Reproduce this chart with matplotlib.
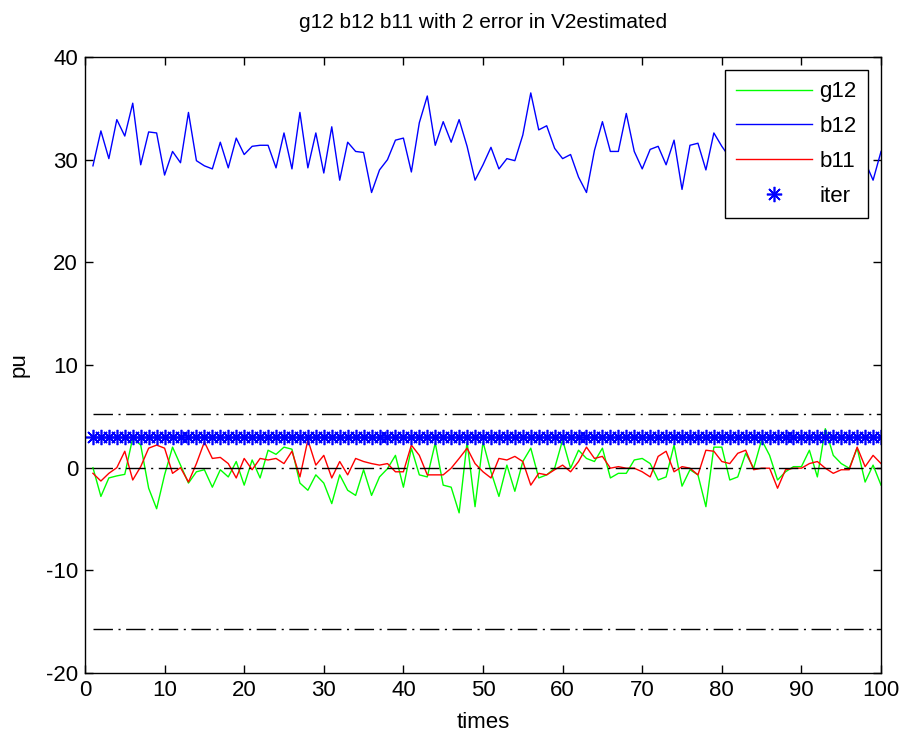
import numpy as np
import matplotlib
matplotlib.use("Agg")
import matplotlib.pyplot as plt

plt.rcParams['font.family'] = ['Liberation Sans', 'DejaVu Sans']
plt.rcParams['axes.unicode_minus'] = False

times = np.arange(1, 101)

g12 = [0.0, -2.8, -1.0, -0.8, -0.65, 2.9, 2.2, -2.0, -4.0, -0.7,
       2.0, 0.25, -1.5, -0.4, -0.2, -1.9, -0.2, -0.9, 0.6, -1.7,
       0.75, -1.0, 1.7, 1.3, 2.0, 1.8, -1.5, -2.2, -0.7, -1.5,
       -3.5, -0.7, -2.2, -2.7, -0.2, -2.7, -0.9, -0.1, 1.2, -1.9,
       1.9, -0.7, -0.9, 2.4, -1.7, -1.9, -4.4, 2.5, -3.8, 2.5,
       -0.4, -2.8, 0.25, -2.3, 0.6, 1.9, -1.0, -0.7, -0.05, 2.7,
       -0.05, 1.7, 0.9, 0.6, 1.9, -1.0, -0.55, -0.55, 0.75, 0.9,
       0.4, -1.2, -0.9, 2.2, -1.8, -0.2, -0.7, -3.8, 2.0, 2.0,
       -1.2, -0.9, 1.4, -0.05, 2.7, 1.2, -1.2, -0.4, 0.1, 0.1,
       1.7, -0.9, 3.8, 1.2, 0.4, -0.05, 1.9, -1.4, 0.25, -1.7]

b12 = [29.4, 32.8, 30.1, 33.9, 32.3, 35.5, 29.5, 32.7, 32.6, 28.5,
       30.8, 29.7, 34.6, 29.9, 29.4, 29.1, 31.7, 29.2, 32.1, 30.5,
       31.3, 31.4, 31.4, 29.2, 32.6, 29.1, 34.6, 29.2, 32.6, 28.7,
       33.2, 28.0, 31.7, 30.8, 30.7, 26.8, 29.0, 30.0, 31.9, 32.1,
       28.8, 33.6, 36.2, 31.4, 33.7, 31.7, 33.9, 31.3, 28.0, 29.5,
       31.2, 29.1, 30.1, 29.9, 32.4, 36.5, 32.9, 33.3, 31.1, 30.1,
       30.5, 28.3, 26.8, 30.9, 33.7, 30.8, 30.8, 34.5, 30.8, 29.1,
       31.0, 31.3, 29.5, 31.9, 27.1, 31.4, 31.6, 29.0, 32.6, 31.3,
       30.2, 32.5, 29.4, 33.1, 30.6, 28.9, 31.8, 30.0, 32.9, 29.6,
       31.2, 33.4, 30.1, 28.7, 32.2, 30.5, 31.6, 29.8, 28.0, 30.8]

b11 = [-0.55, -1.3, -0.55, 0.0, 1.6, -1.2, 0.1, 1.9, 2.2, 1.9,
       -0.55, 0.0, -1.4, 0.4, 2.5, 0.9, 1.0, 0.4, -1.0, 0.9,
       -0.2, 0.9, 0.75, 0.9, 0.4, 1.6, -0.9, 2.7, 0.25, 1.2,
       -1.0, 0.6, -0.7, 0.9, 0.6, 0.4, 0.25, 0.4, -0.4, -0.4,
       2.2, 1.2, -0.7, -0.7, -0.7, -0.05, 0.9, 1.9, 0.4, -0.4,
       -1.0, 0.9, 0.75, 1.1, 0.6, -1.7, -0.55, -0.7, -0.2, 0.25,
       -0.4, 0.6, 2.0, 0.9, 1.1, -0.05, 0.1, -0.05, -0.05, -0.4,
       -0.9, 1.1, 1.6, -0.4, 0.1, -0.05, -0.7, 1.7, 1.6, 0.6,
       0.4, 1.4, 1.7, -0.2, -0.05, -0.05, -2.0, -0.2, -0.05, -0.05,
       0.4, 0.6, -0.05, -0.55, -0.2, -0.2, 2.0, 0.1, 1.2, 0.4]

iter_level = [3.0] * 100

# limit lines (dash-dot)
upper_lim = 5.2
mid_lim = 0.0
lower_lim = -15.7

fig = plt.figure(figsize=(9.04, 7.4), dpi=100)
ax = fig.add_axes([0.094, 0.0905, 0.8806, 0.8325])

ax.plot(times, g12, color=(0, 1, 0), lw=1.0, label='g12')
ax.plot(times, b12, color=(0, 0, 1), lw=1.0, label='b12')
ax.plot(times, b11, color=(1, 0, 0), lw=1.0, label='b11')
ax.plot(times, iter_level, ls='none', marker=(8, 2, 0), ms=11, mew=1.2,
        color=(0, 0, 1), label='iter')

for lim in [upper_lim, mid_lim, lower_lim]:
    ax.plot([times[0], times[-1]], [lim, lim], color='k', ls='-.', lw=1.0,
            dashes=(14, 4, 1.5, 4))

ax.set_xlim(0, 100)
ax.set_ylim(-20, 40)
ax.set_xticks(np.arange(0, 101, 10))
ax.set_yticks(np.arange(-20, 41, 10))
ax.tick_params(direction='in', top=True, right=True, length=6, width=1,
               labelsize=16, pad=5)
for s in ax.spines.values():
    s.set_linewidth(1.0)

ax.set_title('g12 b12 b11 with 2 error in V2estimated', fontsize=15, pad=21)
ax.set_xlabel('times', fontsize=16, labelpad=8)
ax.set_ylabel('pu', fontsize=16, labelpad=12)

leg = ax.legend(loc='upper right', fontsize=16, handlelength=3.4,
                handletextpad=0.35, labelspacing=0.62, borderpad=0.5,
                borderaxespad=0.6, fancybox=False, framealpha=1,
                edgecolor='k')
leg.get_frame().set_linewidth(1.0)

fig.savefig('out.png', dpi=100, facecolor='white')
